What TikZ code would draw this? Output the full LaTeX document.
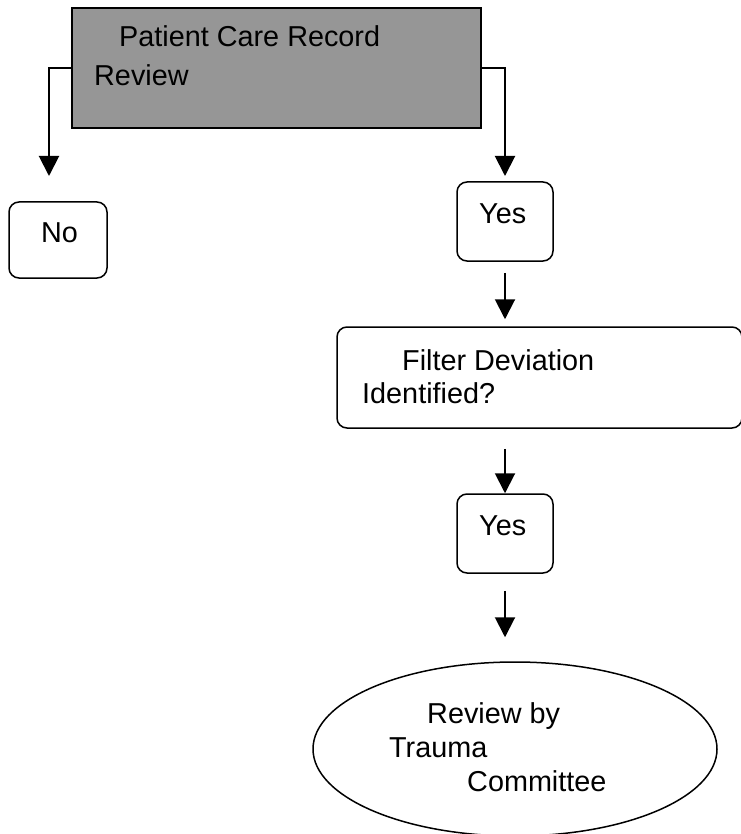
\documentclass[tikz,border=0pt]{standalone}
\usepackage{fontspec}
\setmainfont{Liberation Sans}
\usetikzlibrary{arrows.meta,shapes.geometric}
\definecolor{boxgray}{RGB}{150,150,150}
\tikzset{
  txt/.style={anchor=base west,inner sep=0pt,font=\fontsize{28.8}{34}\selectfont},
  rbox/.style={draw,line width=1.5pt,rounded corners=10pt,inner sep=0pt},
  conn/.style={line width=2pt,-{Triangle[width=20pt,length=20pt]}},
}
\begin{document}
\begin{tikzpicture}[x=1pt,y=-1pt]
\useasboundingbox (0,0) rectangle (740,834);
% top box
\node[draw,line width=2pt,fill=boxgray,minimum width=409pt,minimum height=120pt,inner sep=0pt] (top) at (276.5,68) {};
\node[txt] (ttop1) at (119,47) {Patient Care Record};
\node[txt] (ttop2) at (94,86) {Review};
% No
\node[rbox,minimum width=98pt,minimum height=76pt] (no) at (58,240) {};
\node[txt] (tno) at (41,242) {No};
% Yes 1
\node[rbox,minimum width=96pt,minimum height=79pt] (yes1) at (505,221.5) {};
\node[txt] (tyes1) at (479,223) {Yes};
% Filter
\node[rbox,minimum width=405pt,minimum height=101pt] (filter) at (539.5,377.5) {};
\node[txt] (tf1) at (402,370) {Filter Deviation};
\node[txt] (tf2) at (362,403) {Identified?};
% Yes 2
\node[rbox,minimum width=96pt,minimum height=79pt] (yes2) at (505,533.5) {};
\node[txt] (tyes2) at (479,535) {Yes};
% ellipse
\node[draw,line width=1.5pt,ellipse,minimum width=404pt,minimum height=174pt,inner sep=0pt] (ell) at (515,749) {};
\node[txt] (te1) at (427,723) {Review by};
\node[txt] (te2) at (389,757) {Trauma};
\node[txt] (te3) at (467,791) {Committee};
% connectors
\coordinate (noin) at (49,176);
\coordinate (yesin) at (505,176);
\draw[conn] (top.west) -| (noin);
\draw[conn] (top.east) -| (yesin);
\draw[conn,shorten <=11pt,shorten >=7pt] (yes1.south) -- (yes1.south |- filter.north);
\draw[conn,shorten <=20pt] (yes2.north |- filter.south) -- (yes2.north);
\draw[conn,shorten <=17pt,shorten >=24pt] (yes2.south) -- (yes2.south |- ell.north);
\end{tikzpicture}
\end{document}
